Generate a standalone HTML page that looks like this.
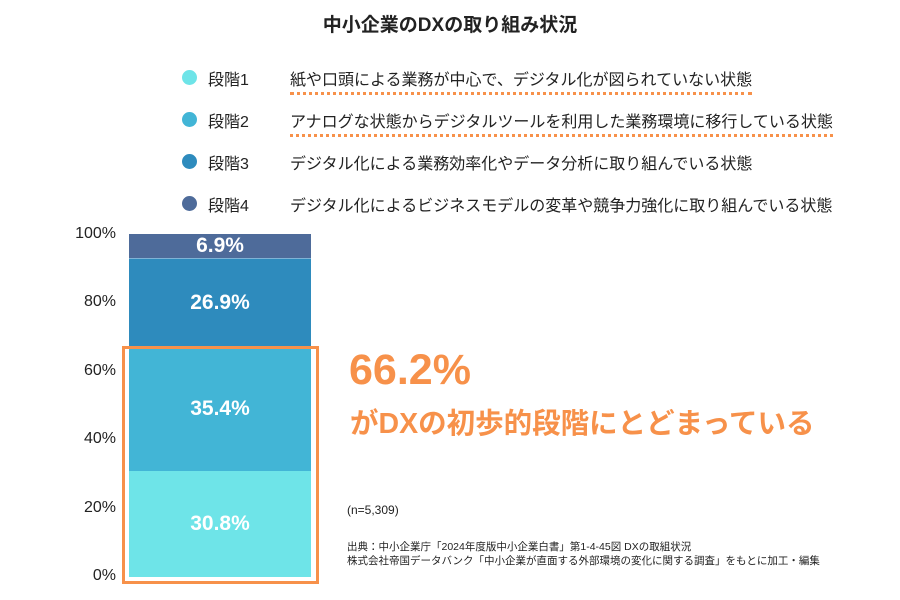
<!DOCTYPE html>
<html><head><meta charset="utf-8"><style>
body{margin:0;width:900px;height:600px;background:#fff;position:relative;overflow:hidden;font-family:"Liberation Sans","Noto Sans CJK JP",sans-serif;color:#222}
.a{position:absolute;white-space:nowrap}
.dot{position:absolute;width:15px;height:15px;border-radius:50%}
.lg{font-size:16px}
.u{border-bottom:3px dotted #f7914a;padding-bottom:3px}
.yt{font-size:16px;text-align:right;width:60px;left:56px}
.seg{position:absolute;left:129px;width:182px;color:#fff;font-weight:bold;font-size:21px;display:flex;align-items:center;justify-content:center}
</style></head><body>
<div class="a" style="left:0;width:900px;top:10px;text-align:center;font-size:19px;font-weight:bold">中小企業のDXの取り組み状況</div>

<div class="dot" style="left:182px;top:70px;background:#6ee4e8"></div>
<div class="a lg" style="left:208px;top:66px">段階1</div>
<div class="a lg" style="left:290px;top:66px"><span class="u">紙や口頭による業務が中心で、デジタル化が図られていない状態</span></div>
<div class="dot" style="left:182px;top:112px;background:#42b5d6"></div>
<div class="a lg" style="left:208px;top:108px">段階2</div>
<div class="a lg" style="left:290px;top:108px"><span class="u">アナログな状態からデジタルツールを利用した業務環境に移行している状態</span></div>
<div class="dot" style="left:182px;top:154px;background:#2e8bbd"></div>
<div class="a lg" style="left:208px;top:150px">段階3</div>
<div class="a lg" style="left:290px;top:150px">デジタル化による業務効率化やデータ分析に取り組んでいる状態</div>
<div class="dot" style="left:182px;top:196px;background:#4e6b9a"></div>
<div class="a lg" style="left:208px;top:192px">段階4</div>
<div class="a lg" style="left:290px;top:192px">デジタル化によるビジネスモデルの変革や競争力強化に取り組んでいる状態</div>

<div class="a yt" style="top:225px">100%</div>
<div class="a yt" style="top:293px">80%</div>
<div class="a yt" style="top:362px">60%</div>
<div class="a yt" style="top:430px">40%</div>
<div class="a yt" style="top:499px">20%</div>
<div class="a yt" style="top:567px">0%</div>

<div class="seg" style="top:234px;height:24px;background:#4e6b9a">6.9%</div>
<div class="seg" style="top:258px;height:89px;background:#2e8bbd;border-top:1px solid #7fb3d6;box-sizing:border-box">26.9%</div>
<div class="seg" style="top:347px;height:124px;background:#42b5d6">35.4%</div>
<div class="seg" style="top:471px;height:106px;background:#6ee4e8">30.8%</div>
<div class="a" style="left:122px;top:346px;width:191px;height:232px;border:3px solid #f7914a"></div>

<div class="a" style="left:349px;top:346px;font-size:43px;font-weight:bold;color:#f7914a">66.2%</div>
<div class="a" style="left:350px;top:401px;font-size:28.5px;font-weight:bold;color:#f7914a">がDXの初歩的段階にとどまっている</div>
<div class="a" style="left:347px;top:503px;font-size:12px">(n=5,309)</div>
<div class="a" style="left:347px;top:540px;font-size:10.5px;line-height:14px">出典：中小企業庁「2024年度版中小企業白書」第1-4-45図 DXの取組状況<br>株式会社帝国データバンク「中小企業が直面する外部環境の変化に関する調査」をもとに加工・編集</div>
</body></html>
